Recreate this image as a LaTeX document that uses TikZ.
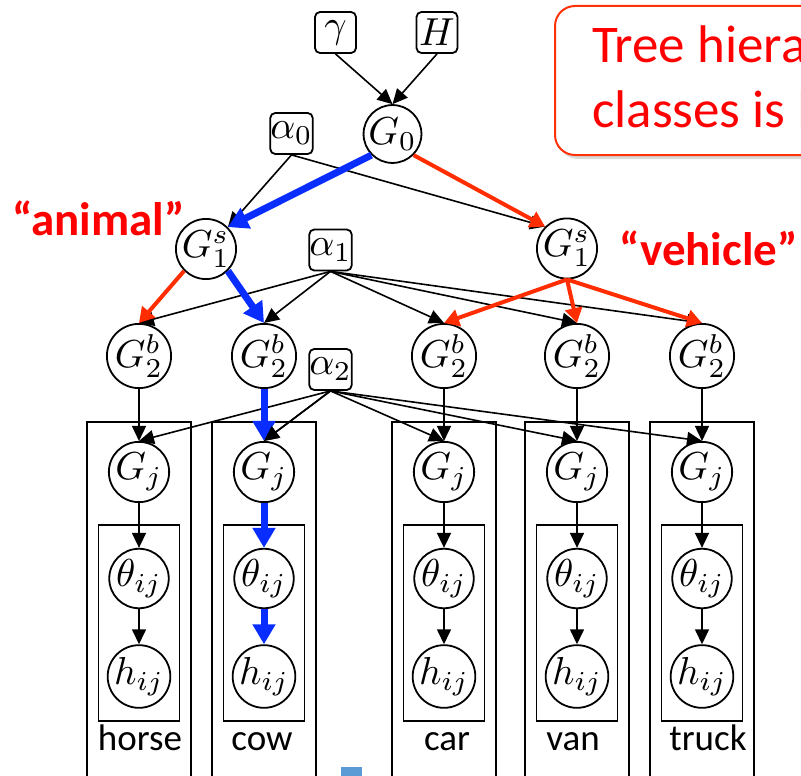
\documentclass[tikz,border=0pt]{standalone}
\usepackage{fontspec}
\newfontfamily\slidefont{Carlito}
\usetikzlibrary{arrows.meta,shadows}

\definecolor{pathblue}{RGB}{10,45,255}
\definecolor{pathred}{RGB}{255,45,0}
\definecolor{labelred}{RGB}{255,0,0}
\definecolor{calloutred}{RGB}{255,50,10}
\definecolor{fadedpink}{RGB}{250,205,205}
\definecolor{slideblue}{RGB}{91,155,213}

% math set at 10pt and enlarged, so every glyph keeps its shape
\newcommand\mv[1]{\scalebox{3.9}{$#1$}}
\newcommand\platefont{\slidefont\fontsize{37}{42}\selectfont}
\newcommand\tagfont{\slidefont\bfseries\fontsize{47}{53}\selectfont}
\newcommand\notefont{\slidefont\fontsize{53}{60}\selectfont}

\begin{document}
\begin{tikzpicture}[x=1pt,y=-1pt,
  var/.style={circle,draw,line width=1.8pt,minimum size=57pt,inner sep=0pt},
  hyper/.style={rectangle,rounded corners=5pt,draw,line width=1.8pt,minimum size=41pt,inner sep=0pt},
  plate/.style={rectangle,draw,line width=1.8pt,inner sep=0pt},
  dep/.style={line width=1.6pt,-{Triangle[length=15pt,width=14pt]}},
  bluepath/.style={pathblue,line width=7pt,-{Triangle[length=20pt,width=22pt]}},
  redpath/.style={pathred,line width=4pt,-{Triangle[length=15pt,width=17pt]}},
  platelabel/.style={font=\platefont,anchor=base,inner sep=0pt},
  tag/.style={font=\tagfont,text=labelred,inner sep=0pt}]

\useasboundingbox (0,0) rectangle (801,776);
\clip (0,0) rectangle (801,776);

% explanatory callout
\node[draw=calloutred,line width=2pt,rounded corners=20pt,fill=white,
      drop shadow={opacity=0.3,shadow xshift=3pt,shadow yshift=-4pt},
      minimum width=445pt,minimum height=149pt,inner sep=0pt] (callout) at (777.5,80.5) {};
\node[font=\notefont,text=labelred,anchor=base west,inner sep=0pt] (noteA) at (592,63) {Tree hierarchy of};
\node[font=\notefont,text=labelred,anchor=base west,inner sep=0pt] (noteB) at (592,127) {classes is \textcolor{fadedpink}{learned}};

% top of the hierarchy
\node[hyper] (gamma) at (335.5,32.5) {\mv{\gamma}};
\node[hyper] (H) at (437,32.5) {\mv{H}};
\node[var] (G0) at (392.5,134) {\mv{G_0}};
\node[hyper] (a0) at (291.5,133.5) {\mv{\alpha_0}};

\node[var] (G1L) at (206,249) {\mv{G_1^s}};
\node[hyper] (a1) at (330.5,250) {\mv{\alpha_1}};
\node[var] (G1R) at (567,248.5) {\mv{G_1^s}};

\node[hyper] (a2) at (330.5,369.5) {\mv{\alpha_2}};

\node[tag,anchor=base west] (animal) at (12,235) {“animal”};
\node[tag,anchor=base east] (vehicle) at (798,265) {“vehicle”};

% one column per class: plates, variables and the class name
\foreach \c/\x/\lx/\lab in {horse/139/140/horse, cow/264/262/cow, car/444/447/car, van/577/573/van, truck/702/708/truck}{
  \node[plate,minimum width=104pt,minimum height=368pt] (outer-\c) at (\x,606) {};
  \node[plate,minimum width=81pt,minimum height=196pt] (inner-\c) at (\x,623) {};
  \node[var] (G2-\c) at (\x,356) {\mv{G_2^b}};
  \node[var] (Gj-\c) at (\x,472) {\mv{G_j}};
  \node[var] (th-\c) at (\x,578.5) {\mv{\theta_{ij}}};
  \node[var] (h-\c) at (\x,676.5) {\mv{h_{ij}}};
  \node[platelabel] (lab-\c) at (\lx,750) {\lab};
}

% plain dependencies
\draw[dep] (gamma.south) -- (G0.north);
\draw[dep] (H.south) -- (G0.north);
\draw[dep] (a0.south) -- (G1L.north east);
\draw[dep] (a0.south) -- (G1R.north west);
\foreach \c in {horse,cow,car,van,truck}{
  \draw[dep] (a1.south) -- (G2-\c.north);
  \draw[dep] (a2.south) -- (Gj-\c.north);
}
\foreach \c in {horse,car,van,truck}{
  \draw[dep] (G2-\c.south) -- (Gj-\c.north);
  \draw[dep] (Gj-\c.south) -- (th-\c.north);
  \draw[dep] (th-\c.south) -- (h-\c.north);
}

% the "vehicle" branch
\draw[redpath] (G0.south east) -- (G1R.north west);
\draw[redpath] (G1L.south west) -- (G2-horse.north);
\foreach \c in {car,van,truck}{
  \draw[redpath] (G1R.south) -- (G2-\c.north);
}

% the path down to "cow"
\draw[bluepath] (G0.south west) -- (G1L.north east);
\draw[bluepath] (G1L.south east) -- (G2-cow.north);
\draw[bluepath] (G2-cow.south) -- (Gj-cow.north);
\draw[bluepath] (Gj-cow.south) -- (th-cow.north);
\draw[bluepath] (th-cow.south) -- (h-cow.north);
\draw[dep] (a2.south) -- (Gj-cow.north);

% small marker at the foot
\fill[slideblue] (341,767) rectangle (362,780);
\end{tikzpicture}
\end{document}
